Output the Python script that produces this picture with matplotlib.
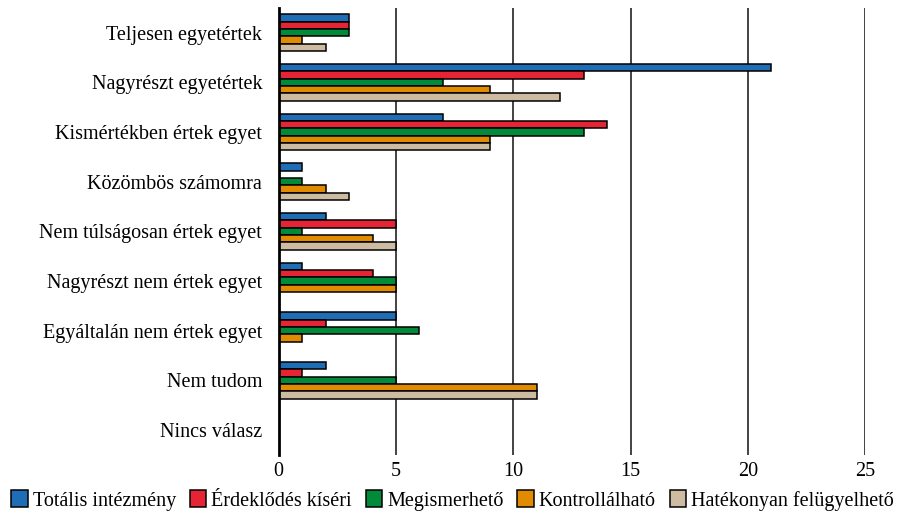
import matplotlib.pyplot as plt
import numpy as np
from matplotlib.patches import Patch

categories = [
    "Teljesen egyetértek",
    "Nagyrészt egyetértek",
    "Kismértékben értek egyet",
    "Közömbös számomra",
    "Nem túlságosan értek egyet",
    "Nagyrészt nem értek egyet",
    "Egyáltalán nem értek egyet",
    "Nem tudom",
    "Nincs válasz",
]
series_names = [
    "Totális intézmény",
    "Érdeklődés kíséri",
    "Megismerhető",
    "Kontrollálható",
    "Hatékonyan felügyelhető",
]
totalis = [3, 21, 7, 1, 2, 1, 5, 2, 0]
erdeklodes = [3, 13, 14, 0, 5, 4, 2, 1, 0]
megismerheto = [3, 7, 13, 1, 1, 5, 6, 5, 0]
kontrollalhato = [1, 9, 9, 2, 4, 5, 1, 11, 0]
hatekonyan = [2, 12, 9, 3, 5, 0, 0, 11, 0]
colors = ["#1f6db5", "#e52535", "#008a3a", "#e08b00", "#cdbca2"]

plt.rcParams["font.family"] = ["Liberation Serif", "DejaVu Serif"]

fig = plt.figure(figsize=(9.05, 5.17), dpi=100)
ax = fig.add_axes([0.308, 0.12, 0.648, 0.865])

data = [totalis, erdeklodes, megismerheto, kontrollalhato, hatekonyan]
y = np.arange(len(categories))
h = 0.148
for i, (vals, c) in enumerate(zip(data, colors)):
    ax.barh(y + (i - 2) * h, vals, height=h, color=c, edgecolor="black",
            linewidth=1.1, zorder=3)

ax.set_yticks(y)
ax.set_yticklabels(categories, fontsize=14.5)
ax.set_ylim(len(categories) - 0.5, -0.5)
ax.set_xlim(0, 25)
ax.set_xticks([0, 5, 10, 15, 20, 25])
ax.tick_params(axis="x", labelsize=14.5, length=0, pad=5)
ax.tick_params(axis="y", length=0, pad=12)
ax.grid(axis="x", color="#222222", linewidth=1.2, zorder=0)
for s in ["top", "right", "bottom"]:
    ax.spines[s].set_visible(False)
ax.spines["left"].set_linewidth(2)
ax.spines["left"].set_zorder(4)

handles = [Patch(facecolor=c, edgecolor="black", linewidth=1.1) for c in colors]
fig.legend(handles, series_names, loc="lower center", ncol=5, frameon=False,
           fontsize=14.5, bbox_to_anchor=(0.5, -0.015), handlelength=0.8,
           handleheight=0.9, handletextpad=0.25, columnspacing=0.7,
           borderaxespad=0.3)

plt.savefig("out.png", dpi=100)
plt.close()
